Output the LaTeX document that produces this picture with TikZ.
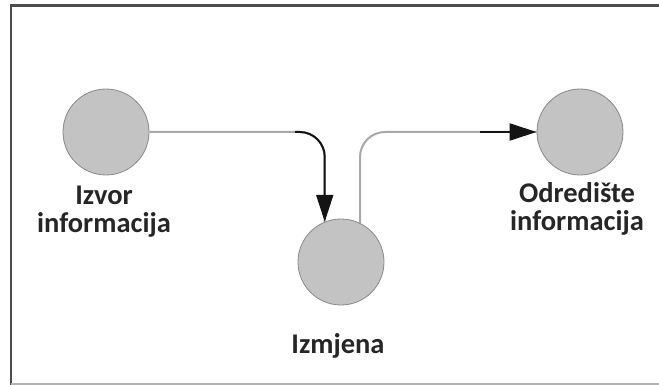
\documentclass[tikz,border=0pt]{standalone}
\usepackage{fontspec}
\setmainfont{Carlito}
\usetikzlibrary{arrows.meta}
\definecolor{discfill}{HTML}{C3C3C3}
\definecolor{discedge}{HTML}{8A8A8A}
\definecolor{wiregray}{HTML}{A8A8A8}
\definecolor{wiredark}{HTML}{141414}
\definecolor{labelink}{HTML}{262626}
\tikzset{
  disc/.style={circle, minimum size=86pt, inner sep=0pt, fill=discfill, draw=discedge, line width=0.8pt},
  caption/.style={font=\fontsize{28.5}{28}\selectfont\bfseries, text=labelink, align=center, inner sep=0pt},
  wire/.style={draw=wiregray, line width=2pt, rounded corners=25pt},
  wirehead/.style={draw=wiredark, line width=2pt, rounded corners=25pt, -{Triangle[length=27pt,width=17pt]}},
}
\begin{document}
\begin{tikzpicture}[x=1pt,y=-1pt]
  \useasboundingbox (0,0) rectangle (659,385);
  \fill[white] (0,0) rectangle (659,385);
  % frame
  \draw[draw=black!70, line width=2.2pt] (11,385) -- (11,5.5) -- (659,5.5);
  \draw[draw=black!30, line width=1.5pt] (11,384.2) -- (659,384.2);

  % discs
  \node[disc] (izvor) at (106,132) {};
  \node[disc] (izmjena) at (341,262) {};
  \node[disc] (odrediste) at (580,132) {};

  % captions
  \node[caption] (izvorTxt) at (104,211.5) {Izvor\\informacija};
  \node[caption, anchor=base] (izmjenaTxt) at (338,353) {Izmjena};
  \node[caption] (odredisteTxt) at (577,209) {Odredište\\informacija};

  % helper points
  \coordinate (bendA) at (295,132);
  \coordinate (bendB) at (480,132);

  % source -> exchange
  \draw[wire] (izvor.east) -| (izmjena.112);
  \draw[wirehead] (bendA) -| (izmjena.112);

  % exchange -> destination
  \draw[wire] (izmjena.64) |- (odrediste.west);
  \draw[wirehead] (bendB) -- (odrediste.west);
\end{tikzpicture}
\end{document}
